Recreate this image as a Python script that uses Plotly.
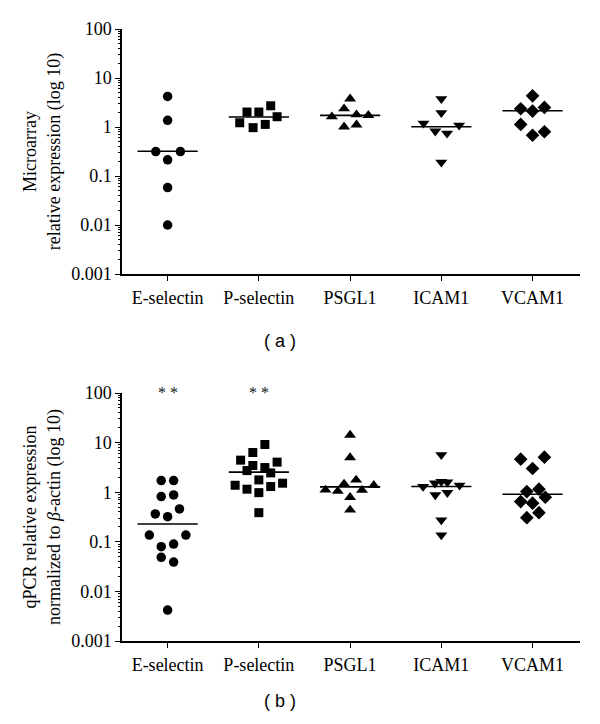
import numpy as np
import plotly.graph_objects as go

categories = ["E-selectin", "P-selectin", "PSGL1", "ICAM1", "VCAM1"]
symbols = ["circle", "square", "triangle-up", "triangle-down", "diamond"]
tick_vals = [0.001, 0.01, 0.1, 1, 10, 100]
tick_text = ["0.001", "0.01", "0.1", "1", "10", "100"]

# ---- (a) Microarray ----
a_esel = [4.2, 1.37, 0.315, 0.315, 0.214, 0.058, 0.010]
a_esel_dx = [0, 0, -0.13, 0.14, 0, 0, 0]
a_psel = [2.02, 2.02, 2.71, 1.22, 0.97, 1.13, 1.62]
a_psel_dx = [-0.13, 0, 0.13, -0.21, -0.063, 0.07, 0.2]
a_psgl = [3.76, 2.36, 1.62, 1.78, 1.73, 1.01, 1.11]
a_psgl_dx = [0, -0.066, -0.2, 0.07, 0.2, -0.066, 0.07]
a_icam = [3.76, 1.95, 1.19, 0.82, 0.745, 1.08, 0.19]
a_icam_dx = [0, 0, -0.195, -0.066, 0.063, 0.195, 0]
a_vcam = [4.33, 2.36, 2.11, 2.51, 1.13, 0.68, 0.80]
a_vcam_dx = [0, -0.13, 0, 0.13, -0.13, 0, 0.13]
a_median = [0.32, 1.6, 1.73, 1.01, 2.14]

# ---- (b) qPCR ----
b_esel = [1.72, 1.72, 0.815, 0.88, 0.365, 0.321, 0.46, 0.137, 0.137, 0.0796, 0.090, 0.0486, 0.0391, 0.0042]
b_esel_dx = [-0.07, 0.066, -0.07, 0.066, -0.135, 0, 0.13, -0.2, 0.2, -0.07, 0.066, -0.07, 0.066, 0]
b_psel = [9.16, 6.31, 4.43, 4.04, 3.45, 3.14, 2.73, 2.45, 1.77, 1.38, 1.15, 1.30, 1.52, 0.98, 0.387]
b_psel_dx = [0.066, -0.066, -0.2, 0.2, -0.066, 0.066, -0.13, 0.13, 0, -0.26, -0.13, 0.13, 0.26, 0, 0]
b_psgl = [14.2, 5.0, 1.77, 1.47, 1.11, 1.05, 1.38, 1.10, 0.79, 0.44]
b_psgl_dx = [0, 0, 0.066, -0.066, -0.27, -0.135, 0.26, 0.13, 0, 0]
b_icam = [5.67, 1.30, 1.52, 1.64, 1.59, 1.38, 0.88, 0.98, 0.275, 0.137]
b_icam_dx = [0, -0.2, -0.07, 0, 0.066, 0.2, -0.066, 0.066, 0, 0]
b_vcam = [4.64, 5.09, 3.0, 1.03, 1.15, 0.79, 0.646, 0.60, 0.387, 0.307]
b_vcam_dx = [-0.13, 0.13, 0, -0.063, 0.07, 0.14, -0.13, 0, 0.07, -0.063]
b_median = [0.229, 2.54, 1.28, 1.30, 0.91]
b_signif = ["* *", "* *", "", "", ""]

panel_a = [(a_esel, a_esel_dx), (a_psel, a_psel_dx), (a_psgl, a_psgl_dx), (a_icam, a_icam_dx), (a_vcam, a_vcam_dx)]
panel_b = [(b_esel, b_esel_dx), (b_psel, b_psel_dx), (b_psgl, b_psgl_dx), (b_icam, b_icam_dx), (b_vcam, b_vcam_dx)]

sizes = {"circle": 9.5, "square": 9, "triangle-up": 10.5, "triangle-down": 10.5, "diamond": 10.5}
HALF = 0.33

# page body has an 8px margin: the figure occupies 592x716 starting at (8, 8)
OFF = 8
W, H = 600 - OFF, 724 - OFF

def px_x(x):
    return (x - OFF) / W

def px_y(y):
    return 1 - (y - OFF) / H

fig = go.Figure()

def add_panel(panel, medians, xa, ya):
    for i, (vals, dx) in enumerate(panel):
        sym = symbols[i]
        fig.add_trace(go.Scatter(
            x=[i + d for d in dx], y=vals, mode="markers",
            marker=dict(symbol=sym, size=sizes[sym], color="black", line=dict(width=0)),
            xaxis=xa, yaxis=ya, showlegend=False, cliponaxis=False))
        fig.add_trace(go.Scatter(
            x=[i - HALF, i + HALF], y=[medians[i], medians[i]], mode="lines",
            line=dict(color="black", width=1.6),
            xaxis=xa, yaxis=ya, showlegend=False))

add_panel(panel_a, a_median, "x", "y")
add_panel(panel_b, b_median, "x2", "y2")

serif = "Liberation Serif"
xdom = [px_x(122), px_x(580)]

def xaxis_cfg(anchor):
    return dict(domain=xdom, anchor=anchor, range=[-0.5, 4.52], automargin=False,
                tickmode="array", tickvals=list(range(len(categories))), ticktext=categories,
                showline=True, linecolor="black", linewidth=1.5, ticks="outside", ticklen=5,
                tickwidth=1.3, tickcolor="black", showgrid=False, zeroline=False,
                tickfont=dict(family=serif, size=18, color="black"), ticklabelstandoff=2)

def yaxis_cfg(anchor, dom, title):
    return dict(domain=dom, anchor=anchor, type="log", range=[-3, 2], automargin=False,
                tickmode="array", tickvals=tick_vals, ticktext=tick_text,
                showline=True, linecolor="black", linewidth=1.5, ticks="outside", ticklen=5,
                tickwidth=1.3, tickcolor="black", showgrid=False, zeroline=False,
                tickfont=dict(family=serif, size=18, color="black"),
                minor=dict(ticks="outside", ticklen=2.5, tickcolor="black", tickwidth=0.8,
                           dtick="D1", showgrid=False),
                title=dict(text=title, font=dict(family=serif, size=18, color="black"), standoff=6))

fig.update_layout(
    template="none",
    width=W, height=H,
    margin=dict(l=0, r=0, t=0, b=0, pad=0),
    paper_bgcolor="white", plot_bgcolor="white",
    xaxis=xaxis_cfg("y"),
    yaxis=yaxis_cfg("x", [px_y(274), px_y(29)], "Microarray<br>relative expression (log 10)"),
    xaxis2=xaxis_cfg("y2"),
    yaxis2=yaxis_cfg("x2", [px_y(641), px_y(393)],
                     "qPCR relative expression<br>normalized to <i>β</i>-actin (log 10)"),
)

annotations = []
for i, s in enumerate(b_signif):
    if s:
        annotations.append(dict(x=i, y=2.0, xref="x2", yref="y2", text=s, showarrow=False,
                                xanchor="center", yanchor="middle", yshift=1,
                                font=dict(family=serif, size=16, color="#111")))
annotations.append(dict(x=px_x(280), y=px_y(341), xref="paper", yref="paper", text="( a )",
                        xanchor="center", yanchor="middle", showarrow=False,
                        font=dict(family="Liberation Sans", size=18, color="black")))
annotations.append(dict(x=px_x(280), y=px_y(701), xref="paper", yref="paper", text="( b )",
                        xanchor="center", yanchor="middle", showarrow=False,
                        font=dict(family="Liberation Sans", size=18, color="black")))
fig.update_layout(annotations=annotations)

fig.write_html("out.html")
